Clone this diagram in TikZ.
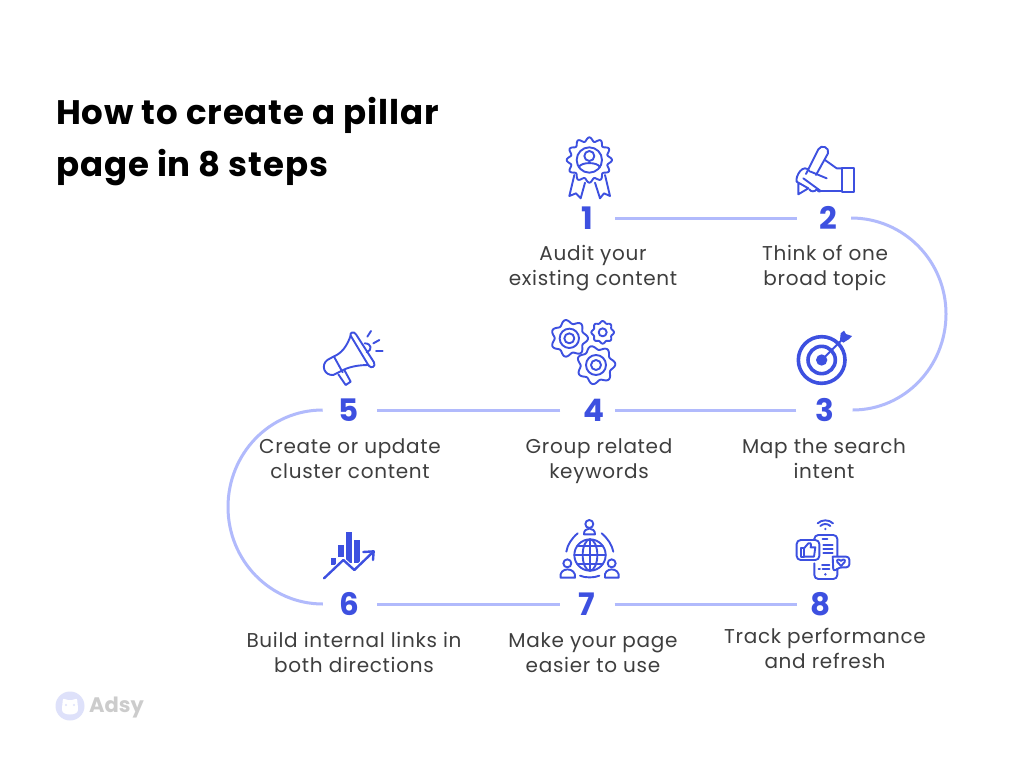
\documentclass[tikz,border=0pt]{standalone}
\usepackage{fontspec}
\setmainfont{Poppins}
\usetikzlibrary{arrows.meta}
\definecolor{stepblue}{HTML}{3D50E0}
\definecolor{linkblue}{HTML}{B1BAFC}
\definecolor{bodygrey}{HTML}{3E3E3E}
\tikzset{
  stepnum/.style={inner sep=0pt,text=stepblue,font=\fontsize{31}{31}\selectfont\bfseries},
  steptext/.style={inner sep=0pt,align=center,text=bodygrey,font=\fontsize{20}{25}\selectfont\addfontfeature{LetterSpace=3.5}},
  link/.style={draw=linkblue,line width=3pt},
  icon/.style={draw=stepblue,line width=1.9pt,line cap=round,line join=round},
  iconfill/.style={fill=stepblue,draw=none},
}
\begin{document}
\begin{tikzpicture}[x=1pt,y=-1pt]
\useasboundingbox (0,0) rectangle (1024,768);
\fill[white] (0,0) rectangle (1024,768);

% title
\node[anchor=north west,inner sep=0pt,align=left,font=\fontsize{34}{52}\selectfont\bfseries\addfontfeature{LetterSpace=2.5}] (title) at (56,97) {How to create a pillar\\page in 8 steps};

% numbers
\node[stepnum] (n1) at (587,218) {1};
\node[stepnum] (n2) at (828,218) {2};
\node[stepnum] (n3) at (825,410) {3};
\node[stepnum] (n4) at (594,410) {4};
\node[stepnum] (n5) at (349,410) {5};
\node[stepnum] (n6) at (349,604) {6};
\node[stepnum] (n7) at (587,604) {7};
\node[stepnum] (n8) at (821,604) {8};

% labels
\node[steptext] (t1) at (593,268) {Audit your\\existing content};
\node[steptext] (t2) at (825,268) {Think of one\\broad topic};
\node[steptext] (t3) at (824,459) {Map the search\\intent};
\node[steptext] (t4) at (599,461) {Group related\\keywords};
\node[steptext] (t5) at (350,459) {Create or update\\cluster content};
\node[steptext] (t6) at (354,652) {Build internal links in\\both directions};
\node[steptext] (t7) at (593,653) {Make your page\\easier to use};
\node[steptext] (t8) at (825,648) {Track performance\\and refresh};

% connectors
\coordinate (c23) at (946,314);
\coordinate (c56) at (228,507);
\draw[link] ([xshift=22pt]n1.east) -- ([xshift=-22pt]n2.west);
\draw[link] ([xshift=14pt]n2.east) to[out=0,in=90] (c23) to[out=-90,in=0] ([xshift=18pt]n3.east);
\draw[link] ([xshift=-19pt]n3.west) -- ([xshift=10pt]n4.east);
\draw[link] ([xshift=-23pt]n4.west) -- ([xshift=18pt]n5.east);
\draw[link] ([xshift=-16pt]n5.west) to[out=180,in=90] (c56) to[out=-90,in=180] ([xshift=-16pt]n6.west);
\draw[link] ([xshift=18pt]n6.east) -- ([xshift=-19pt]n7.west);
\draw[link] ([xshift=19pt]n7.east) -- ([xshift=-14pt]n8.west);

% rosette
\begin{scope}[shift={(540,130)},scale=1/3]
\draw[icon] plot[domain=0:360,samples=145,smooth] ({148+(62+6*cos(12*\x))*cos(\x)},{90+(62+6*cos(12*\x))*sin(\x)}) -- cycle;
\draw[icon] (148,90) circle (38);
\draw[icon] (148,78) circle (15);
\draw[icon] (116,112) .. controls (122,95) and (174,95) .. (180,112);
\draw[icon] (103,135) -- (88,198) -- (108,190) -- (122,205) -- (135,158);
\draw[icon] (165,158) -- (180,205) -- (192,190) -- (210,198) -- (195,135);
\end{scope}

% hand and pencil
\begin{scope}[shift={(540,130)},scale=1/3]
\draw[icon] (905,115) rectangle (943,185);
\draw[icon] (798,132) -- (835,58) .. controls (843,42) and (870,52) .. (864,70) -- (828,135);
\draw[icon] (855,90) -- (890,115) -- (905,115);
\draw[icon] (905,183) -- (842,183) -- (790,145);
\draw[icon] (812,125) -- (860,145);
\draw[icon] (810,125) .. controls (790,95) and (765,140) .. (770,155) -- (805,175) -- (775,193) -- (775,160);
\draw[icon] (808,178) .. controls (812,186) and (825,186) .. (830,178) .. controls (835,186) and (842,186) .. (842,183);
\end{scope}

% target
\begin{scope}[shift={(780,320)},scale=1/3]
\draw[icon,line width=3.6pt] (125,120) circle (70);
\draw[icon,line width=3.6pt] (125,120) circle (41);
\fill[stepblue] (125,120) circle (17);
\draw[icon] (125,120) -- (190,55);
\fill[stepblue] (180,60) -- (182,40) -- (192,32) -- (198,42) -- (216,48) -- (206,58) -- (190,68) -- cycle;
\end{scope}

% gears
\begin{scope}[shift={(310,315)},scale=1/3]
\draw[icon] plot[domain=0:360,samples=113,smooth] ({778+(50+6*cos(7*\x))*cos(\x)},{70+(50+6*cos(7*\x))*sin(\x)}) -- cycle;
\draw[icon] (778,70) circle (29);
\draw[icon] (778,70) circle (15);
\draw[icon] plot[domain=0:360,samples=113,smooth] ({858+(52+6*cos(7*\x+20))*cos(\x)},{150+(52+6*cos(7*\x+20))*sin(\x)}) -- cycle;
\draw[icon] (858,150) circle (30);
\draw[icon] (858,150) circle (15);
\draw[icon] plot[domain=0:360,samples=73,smooth] ({878+(31+3*cos(8*\x))*cos(\x)},{52+(31+3*cos(8*\x))*sin(\x)}) -- cycle;
\draw[icon] (878,52) circle (12);
\end{scope}

% megaphone
\begin{scope}[shift={(310,315)},scale=1/3]
\draw[icon] (122,62) .. controls (118,52) and (132,48) .. (138,58) -- (192,142) .. controls (198,155) and (184,162) .. (176,152) -- cycle;
\draw[icon] (122,62) .. controls (110,95) and (95,115) .. (70,125) -- (52,135) .. controls (32,150) and (42,182) .. (70,180) -- (90,170) .. controls (115,155) and (145,150) .. (176,150);
\draw[icon] (72,125) -- (98,172);
\draw[icon] (85,178) -- (107,210) -- (122,200) -- (103,165);
\draw[icon] (164,85) .. controls (185,85) and (188,105) .. (170,112);
\draw[icon] (172,65) -- (183,48);
\draw[icon] (190,85) -- (208,75);
\draw[icon] (198,108) -- (218,108);
\end{scope}

% chart
\begin{scope}[shift={(310,510)},scale=1/3]
\fill[stepblue] (62,145) rectangle (77,165);
\fill[stepblue] (85,105) rectangle (101,142);
\fill[stepblue] (108,65) rectangle (125,158);
\fill[stepblue] (133,90) rectangle (149,158);
\draw[white,line width=4.5pt] (42,205) -- (100,150) -- (133,180) -- (190,125);
\draw[icon,line width=2.4pt] (42,205) -- (100,150) -- (133,180) -- (188,127);
\draw[icon,line width=2.4pt] (160,126) -- (191,124) -- (189,150);
\end{scope}

% globe and people
\begin{scope}[shift={(310,510)},scale=1/3]
\draw[icon] (840,135) circle (47);
\draw[icon] (840,135) ellipse (22 and 47);
\draw[icon] (840,88) -- (840,182);
\draw[icon] (793,135) -- (887,135);
\draw[icon] (802,108) -- (878,108);
\draw[icon] (802,162) -- (878,162);
\draw[icon] (838,42) circle (12);
\draw[icon] (822,73) .. controls (820,50) and (856,50) .. (855,73) -- cycle;
\draw[icon] (772,160) circle (12);
\draw[icon] (752,203) .. controls (745,170) and (800,170) .. (795,203) -- cycle;
\draw[icon] (905,160) circle (12);
\draw[icon] (885,203) .. controls (878,170) and (932,170) .. (926,203) -- cycle;
\draw[icon] (803,70) .. controls (785,85) and (772,105) .. (769,125);
\draw[icon] (875,70) .. controls (893,85) and (906,105) .. (910,125);
\draw[icon] (810,197) .. controls (825,204) and (853,204) .. (868,197);
\end{scope}

% phone and bubbles
\begin{scope}[shift={(780,510)},scale=1/3]
\draw[icon,rounded corners=4pt] (103,160) -- (103,207) -- (172,207) -- (172,140);
\draw[icon,rounded corners=4pt] (103,85) -- (103,75) -- (172,75) -- (172,140);
\draw[icon,rounded corners=4pt,fill=white] (50,90) rectangle (118,150);
\draw[icon,rounded corners=3pt,fill=white] (158,140) -- (208,140) -- (208,172) -- (178,172) -- (160,185) -- (158,140);
\draw[icon] (62,115) rectangle (72,140);
\draw[icon] (72,115) -- (85,100) .. controls (90,95) and (95,100) .. (92,112) -- (106,112) -- (102,140) -- (72,140);
\draw[icon] (183,168) -- (172,156) .. controls (168,148) and (178,146) .. (183,153) .. controls (188,146) and (198,148) .. (194,156) -- cycle;
\draw[icon] (128,88) -- (142,88);
\draw[icon] (130,105) -- (158,105);
\draw[icon] (130,117) -- (158,117);
\draw[icon] (130,129) -- (158,129);
\draw[icon] (126,165) -- (148,165);
\draw[icon] (116,177) -- (120,177);
\draw[icon] (128,177) -- (148,177);
\fill[stepblue] (136,193) circle (4);
\draw[icon] (113,40) .. controls (125,28) and (147,28) .. (159,40);
\draw[icon] (121,48) .. controls (129,40) and (143,40) .. (151,48);
\fill[stepblue] (136,57) circle (4);
\end{scope}

% logo
\fill[stepblue!17] (70,706) circle (14.5);
\fill[white,rounded corners=2pt] (63,698) -- (66,700) -- (74,700) -- (77,698) -- (78,708) .. controls (78,716) and (62,716) .. (62,708) -- cycle;
\fill[stepblue!17] (66,705) circle (1.2) (74,705) circle (1.2);
\node[anchor=west,inner sep=0pt,text=black!20,font=\fontsize{21}{21}\selectfont\bfseries] (logo) at (89,708) {Adsy};
\end{tikzpicture}
\end{document}
